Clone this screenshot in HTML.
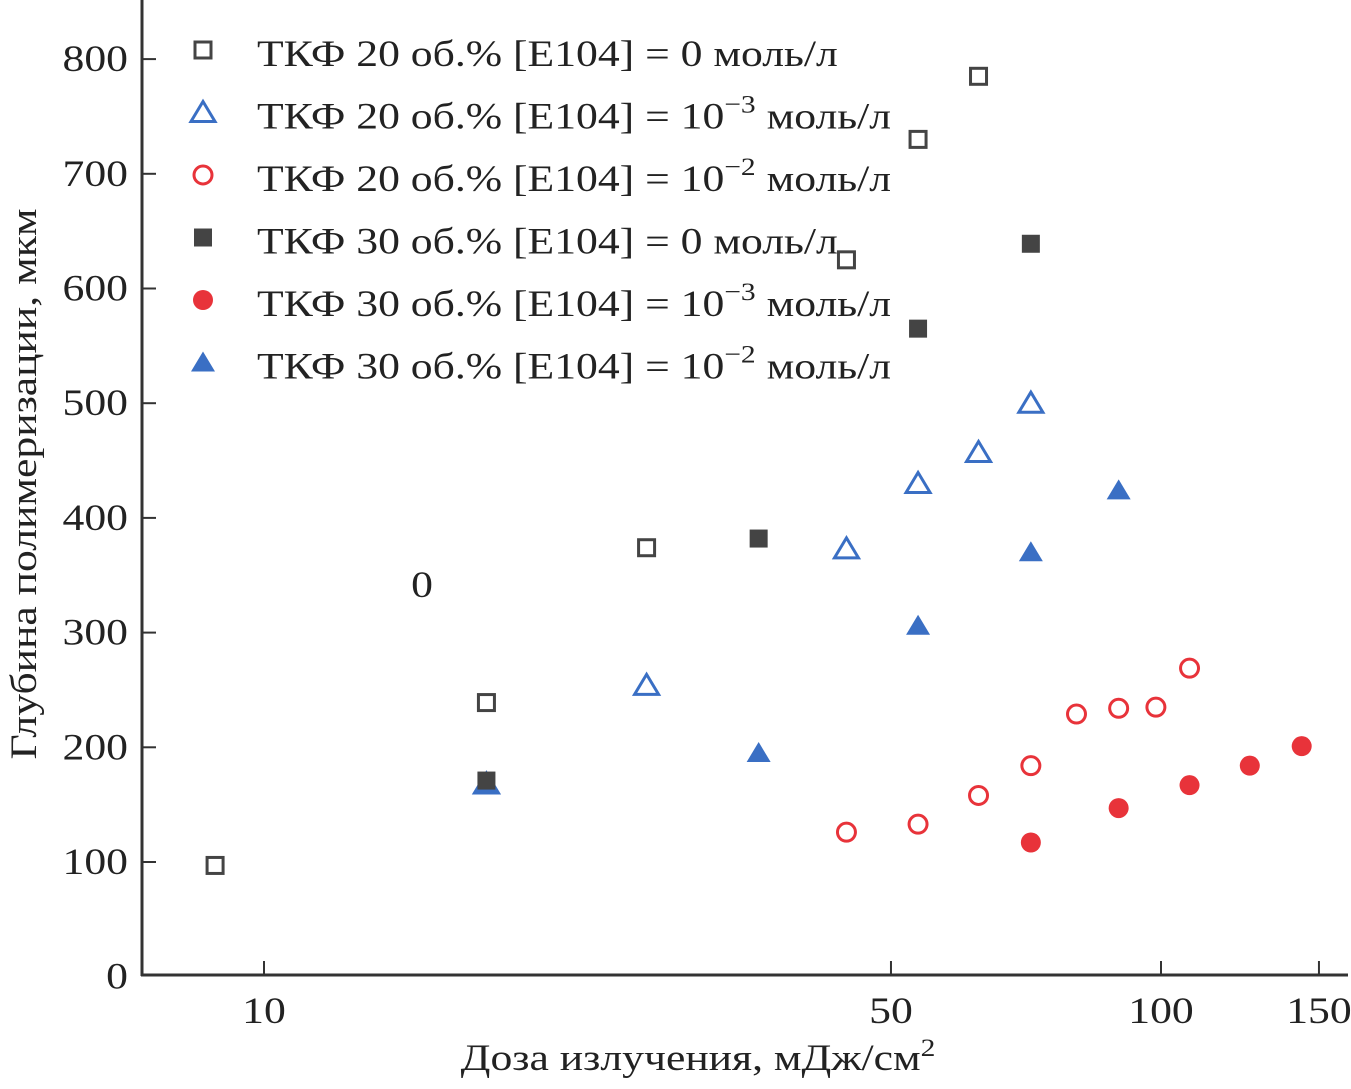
<!DOCTYPE html>
<html><head><meta charset="utf-8"><style>
body{margin:0;background:#fff}
svg text{font-family:"Liberation Serif",serif;fill:#222}
</style></head><body>
<svg id="chart" width="1351" height="1084" viewBox="0 0 1351 1084" xmlns="http://www.w3.org/2000/svg"></svg>
<script>
const xTicks=[10,50,100,150];
const yTicks=[0,100,200,300,400,500,600,700,800];
const s1x=[8.82,17.7,26.7,44.6,53.6,62.6], s1y=[97,239,374,625,730,785];
const s2x=[17.7,26.7,44.6,53.6,62.6,71.6], s2y=[168,254,373,430,457,500];
const s3x=[44.6,53.6,62.6,71.6,80.5,89.7,98.7,107.6], s3y=[126,133,158,184,229,234,235,269];
const s4x=[17.7,35.6,53.6,71.6], s4y=[171,382,565,639];
const s5x=[71.6,89.7,107.6,125.6,143.5], s5y=[117,147,167,184,201];
const s6x=[17.7,35.6,53.6,71.6,89.7], s6y=[168,195,306,370,424];
const legendLabels=["ТКФ 20 об.% [E104] = 0 моль/л","ТКФ 20 об.% [E104] = 10","ТКФ 20 об.% [E104] = 10","ТКФ 30 об.% [E104] = 0 моль/л","ТКФ 30 об.% [E104] = 10","ТКФ 30 об.% [E104] = 10"];
const legendExp=["","−3","−2","","−3","−2"];

const NS="http://www.w3.org/2000/svg";
const svg=document.getElementById('chart');
const X=v=>264+897*(Math.log10(v)-1);
const Y=v=>976.7-1.147*v;
const SX=1.18;
function el(t,a,p){const e=document.createElementNS(NS,t);for(const k in a)e.setAttribute(k,a[k]);(p||svg).appendChild(e);return e;}
function txt(x,y,anchor,extra,p){return el('text',Object.assign({x:0,y:0,'font-size':37,'text-anchor':anchor,transform:`translate(${x},${y}) scale(${SX},1)`},extra||{}),p);}
const GRAY="#444",BLUE="#3a6fc4",RED="#e8333a";
function marker(shape,fill,col,cx,cy,g){
  const sw=3;
  if(shape==='sq'){const h=fill?9:8;return el('rect',{x:cx-h,y:cy-h,width:2*h,height:2*h,fill:fill?col:'#fff',stroke:col,'stroke-width':fill?0:sw},g);}
  if(shape==='ci'){return el('circle',{cx,cy,r:fill?10:9,fill:fill?col:'#fff',stroke:col,'stroke-width':fill?0:sw},g);}
  return el('polygon',{points:`${cx},${cy-11} ${cx+12},${cy+9} ${cx-12},${cy+9}`,fill:fill?col:'#fff',stroke:col,'stroke-width':fill?0:sw},g);
}
const ax=el('g',{});
el('line',{x1:142,y1:0,x2:142,y2:976,stroke:'#333','stroke-width':3},ax);
el('line',{x1:141,y1:975,x2:1348,y2:975,stroke:'#333','stroke-width':3},ax);
xTicks.forEach(v=>{el('line',{x1:X(v),y1:975,x2:X(v),y2:961,stroke:'#333','stroke-width':2},ax);
  const t=txt(X(v),1023,'middle',{},ax);t.textContent=v;
  });
yTicks.forEach(v=>{if(v>0)el('line',{x1:142,y1:Y(v),x2:156,y2:Y(v),stroke:'#333','stroke-width':2},ax);
  const t=txt(128,Y(v)+12,'end',{},ax);t.textContent=v;
  });
const xt=txt(698,1070,'middle');xt.innerHTML='Доза излучения, мДж/см<tspan dy="-14" font-size="25">2</tspan>';

const yt=el('text',{x:0,y:0,'font-size':37,'text-anchor':'middle',transform:`translate(36,484) rotate(-90) scale(${SX},1)`});yt.textContent='Глубина полимеризации, мкм';

const z=txt(422,597,'middle');z.textContent='0';

const series=[[s1x,s1y,'sq',false,GRAY],[s2x,s2y,'tr',false,BLUE],[s3x,s3y,'ci',false,RED],[s4x,s4y,'sq',true,GRAY],[s5x,s5y,'ci',true,RED],[s6x,s6y,'tr',true,BLUE]];
[1,2,0,5,3,4].forEach(i=>{const [xs,ys,sh,f,c]=series[i];const g=el('g',{});
  
  xs.forEach((x,j)=>{const m=marker(sh,f,c,X(x),Y(ys[j]),g);
    });});
series.forEach((s,i)=>{const g=el('g',{});
  
  const cy=50+62.5*i;marker(s[2],s[3],s[4],203,cy,g);
  const t=txt(257,cy+16,'start',{},g);t.textContent=legendLabels[i];
  if(legendExp[i]){const a=el('tspan',{dy:-16,'font-size':25},t);a.textContent=legendExp[i];
    const b=el('tspan',{dy:16,'font-size':37},t);b.textContent=' моль/л';}
});
</script>
</body></html>
